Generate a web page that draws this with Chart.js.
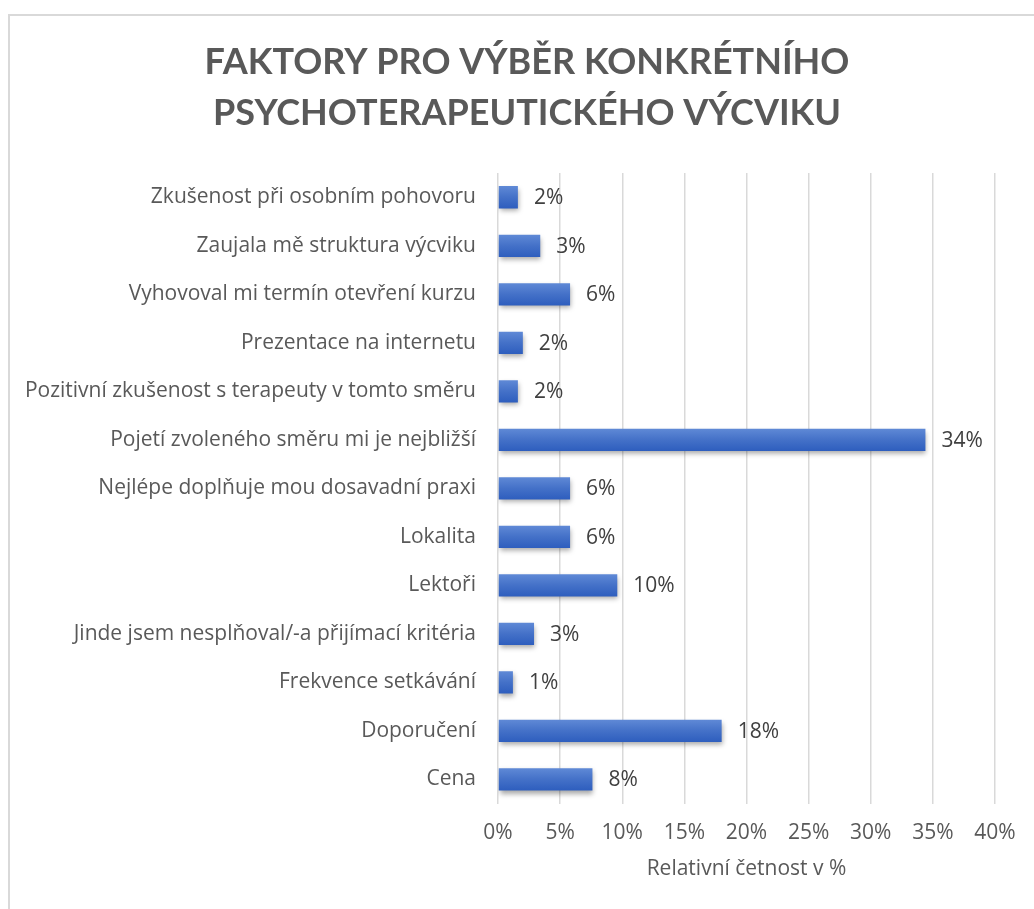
<!DOCTYPE html>
<html>
<head>
<meta charset="utf-8">
<script src="https://cdn.jsdelivr.net/npm/chart.js@4.4.0/dist/chart.umd.min.js"></script>
<style>
    html, body { margin: 0; padding: 0; background: #fff; overflow: hidden; }
    #wrap { width: 1034px; height: 909px; position: relative; }
</style>
</head>
<body>
<div id="wrap"><canvas id="factorsChart"></canvas></div>
<script>
// Data (top to bottom)
const categories = [
    'Zkušenost při osobním pohovoru',
    'Zaujala mě struktura výcviku',
    'Vyhovoval mi termín otevření kurzu',
    'Prezentace na internetu',
    'Pozitivní zkušenost s terapeuty v tomto směru',
    'Pojetí zvoleného směru mi je nejbližší',
    'Nejlépe doplňuje mou dosavadní praxi',
    'Lokalita',
    'Lektoři',
    'Jinde jsem nesplňoval/-a přijímací kritéria',
    'Frekvence setkávání',
    'Doporučení',
    'Cena'
];
const shares = [1.6, 3.4, 5.8, 2.0, 1.6, 34.4, 5.8, 5.8, 9.6, 2.9, 1.2, 18.0, 7.6];
const xTicks = [0, 5, 10, 15, 20, 25, 30, 35, 40];
const titleLines = ['FAKTORY PRO VÝBĚR KONKRÉTNÍHO', 'PSYCHOTERAPEUTICKÉHO VÝCVIKU'];
const axisTitle = 'Relativní četnost v %';

const textGray = '#595959';
const gridGray = '#d9d9d9';
const titleFont = 'Lato';
const font = 'Open Sans';

// white background + frame of the chart object
const framePlugin = {
    id: 'frame',
    afterLayout(chart) {
        // the chart object runs past the right edge, so its title sits a bit right of centre
        if (chart.titleBlock) chart.titleBlock.left += 40;
    },
    beforeDraw(chart) {
        const ctx = chart.ctx;
        ctx.save();
        ctx.fillStyle = '#fff';
        ctx.fillRect(0, 0, chart.width, chart.height);
        ctx.strokeStyle = gridGray;
        ctx.lineWidth = 2;
        ctx.strokeRect(9, 15, chart.width + 50, chart.height + 50);
        ctx.restore();
    }
};

// soft shadow under the bars
const shadowPlugin = {
    id: 'barShadow',
    beforeDatasetsDraw(chart) {
        const ctx = chart.ctx;
        ctx.save();
        ctx.shadowColor = 'rgba(0, 0, 0, 0.35)';
        ctx.shadowBlur = 5;
        ctx.shadowOffsetX = 1;
        ctx.shadowOffsetY = 3;
    },
    afterDatasetsDraw(chart) {
        chart.ctx.restore();
    }
};

// rounded percentage at the end of each bar
const valueLabels = {
    id: 'valueLabels',
    afterDatasetsDraw(chart) {
        const ctx = chart.ctx;
        const meta = chart.getDatasetMeta(0);
        ctx.save();
        ctx.font = '21px "' + font + '"';
        ctx.fillStyle = '#404040';
        ctx.textAlign = 'left';
        ctx.textBaseline = 'middle';
        meta.data.forEach((bar, i) => {
            ctx.fillText(Math.round(shares[i]) + '%', bar.x + 16, bar.y + 1);
        });
        ctx.restore();
    }
};

function barGradient(context) {
    const chart = context.chart;
    if (!chart.chartArea || !chart.scales.y) return '#4472c4';
    const yc = chart.scales.y.getPixelForValue(context.dataIndex);
    const g = chart.ctx.createLinearGradient(0, yc - 11, 0, yc + 11);
    g.addColorStop(0, '#5f89d6');
    g.addColorStop(0.5, '#4471c8');
    g.addColorStop(1, '#2e5ebe');
    return g;
}

const ctx = document.getElementById('factorsChart');
new Chart(ctx, {
    type: 'bar',
    data: {
        labels: categories,
        datasets: [{
            data: shares,
            backgroundColor: barGradient,
            borderWidth: 0,
            categoryPercentage: 0.46,
            barPercentage: 1
        }]
    },
    options: {
        indexAxis: 'y',
        responsive: true,
        maintainAspectRatio: false,
        animation: false,
        layout: {
            padding: { left: 19, right: 39, top: 37, bottom: 27 }
        },
        plugins: {
            legend: { display: false },
            tooltip: { enabled: false },
            title: {
                display: true,
                text: titleLines,
                color: textGray,
                font: { family: titleFont, size: 36, weight: 'bold', lineHeight: 1.417 },
                padding: { top: 0, bottom: 34 }
            }
        },
        scales: {
            x: {
                min: 0,
                max: 40,
                afterBuildTicks(axis) {
                    axis.ticks = xTicks.map(v => ({ value: v }));
                },
                ticks: {
                    color: textGray,
                    font: { family: font, size: 21 },
                    padding: 17,
                    callback: v => v + '%'
                },
                grid: {
                    color: gridGray,
                    lineWidth: 1.5,
                    drawTicks: false
                },
                border: { display: false },
                title: {
                    display: true,
                    text: axisTitle,
                    color: textGray,
                    font: { family: font, size: 21 },
                    padding: { top: -6, bottom: 0 }
                }
            },
            y: {
                afterFit(axis) {
                    axis.width = 479;
                },
                ticks: {
                    color: textGray,
                    font: { family: font, size: 21 },
                    padding: 22,
                    autoSkip: false
                },
                grid: { display: false, drawTicks: false },
                border: { display: false }
            }
        }
    },
    plugins: [framePlugin, shadowPlugin, valueLabels]
});
</script>
</body>
</html>
